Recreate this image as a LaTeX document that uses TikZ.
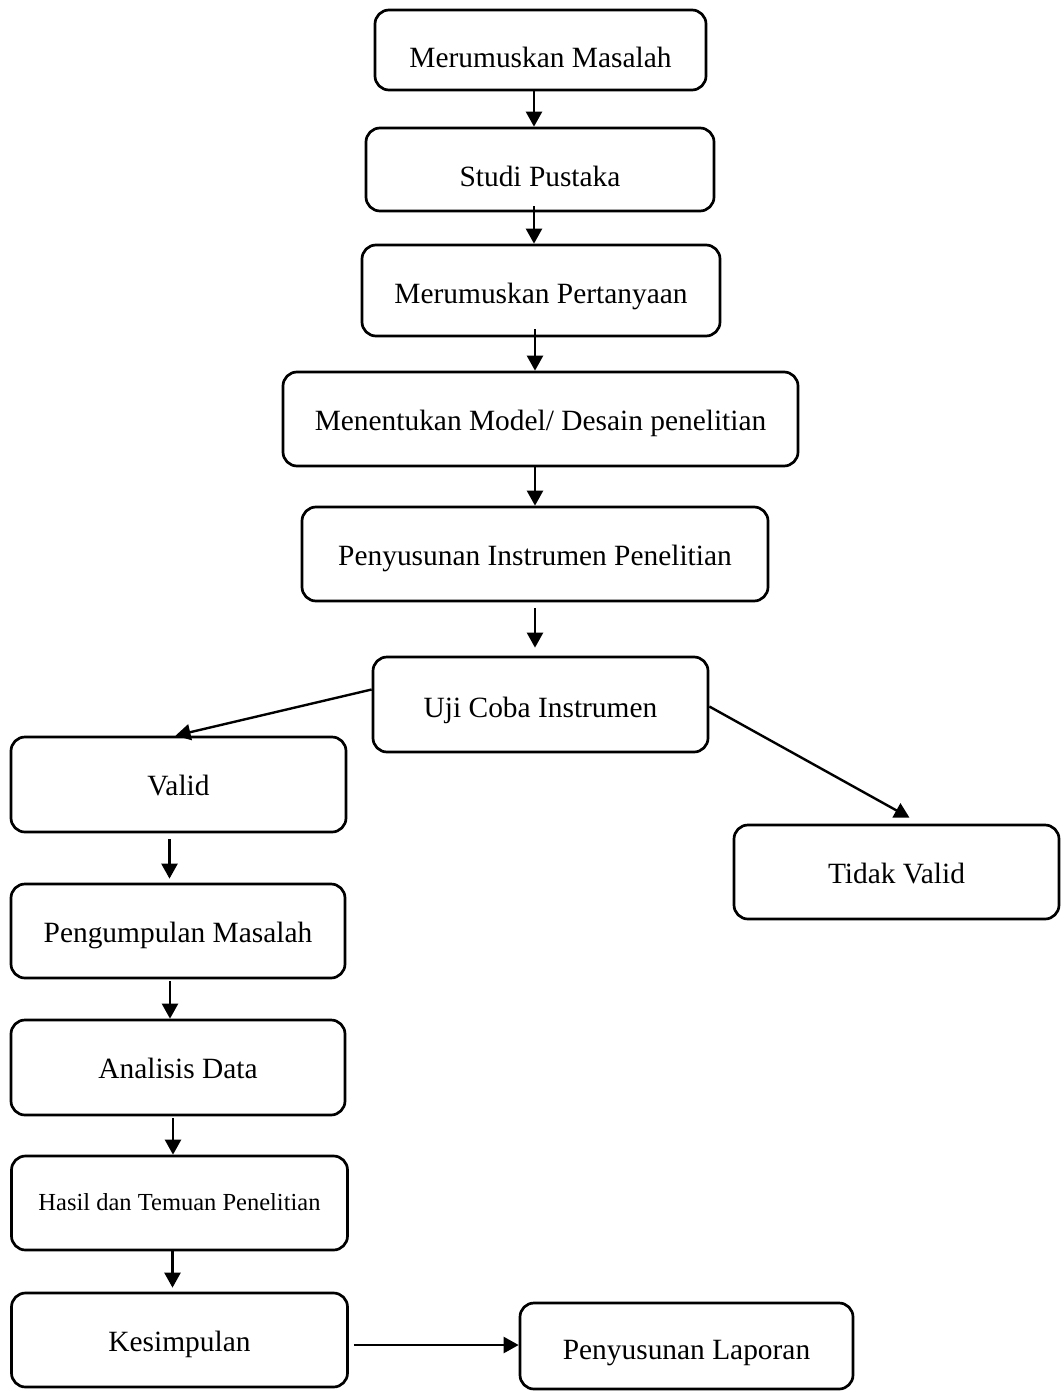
\documentclass[tikz,border=0pt]{standalone}
\usepackage{fontspec}
\setmainfont{Liberation Serif}
\usetikzlibrary{arrows.meta}
\tikzset{
  box/.style={draw, line width=2.7pt, rounded corners=14pt, inner sep=0pt,
    font=\fontsize{29.4}{34}\selectfont, text height=22pt, text depth=0pt},
  smallbox/.style={box, font=\fontsize{24.5}{28}\selectfont, text height=14pt},
  arr/.style={line width=2.4pt, -{Triangle[width=16pt,length=15pt]}}
}
\begin{document}
\begin{tikzpicture}[x=1pt,y=1pt]
\useasboundingbox (0,0) rectangle (1062,-1391);
\node[box, minimum width=331pt, minimum height=80pt, text height=35pt] (b1) at (540.5,-50) {Merumuskan Masalah};
\node[box, minimum width=348pt, minimum height=83pt, text height=34pt] (b2) at (540,-169.5) {Studi Pustaka};
\node[box, minimum width=358pt, minimum height=91pt, text height=25pt] (b3) at (541,-290.5) {Merumuskan Pertanyaan};
\node[box, minimum width=515pt, minimum height=94pt] (b4) at (540.5,-419) {Menentukan Model/ Desain penelitian};
\node[box, minimum width=466pt, minimum height=94pt] (b5) at (535,-554) {Penyusunan Instrumen Penelitian};
\node[box, minimum width=335pt, minimum height=95pt, text height=25pt] (b6) at (540.5,-704.5) {Uji Coba Instrumen};
\node[box, minimum width=335pt, minimum height=95pt] (valid) at (178.5,-784.5) {Valid};
\node[box, minimum width=325pt, minimum height=94pt] (tv) at (896.5,-872) {Tidak Valid};
\node[box, minimum width=334pt, minimum height=94pt] (peng) at (178,-931) {Pengumpulan Masalah};
\node[box, minimum width=334pt, minimum height=95pt] (ana) at (178,-1067.5) {Analisis Data};
\node[smallbox, minimum width=336pt, minimum height=94pt] (hasil) at (179.5,-1203) {Hasil dan Temuan Penelitian};
\node[box, minimum width=336pt, minimum height=94pt] (kes) at (179.5,-1340) {Kesimpulan};
\node[box, minimum width=333pt, minimum height=86pt, text height=27pt] (lap) at (686.5,-1346) {Penyusunan Laporan};

\draw[arr] ([xshift=-6.5pt]b1.south) -- ([xshift=-6.5pt]b1.south |- b2.north);
\draw[arr] ([xshift=-6pt,yshift=6pt]b2.south) -- ([xshift=-6pt]b2.south |- b3.north);
\draw[arr] ([xshift=-6pt,yshift=8pt]b3.south) -- ([xshift=-6pt]b3.south |- b4.north);
\draw[arr] ([xshift=-5.5pt]b4.south) -- ([xshift=-5.5pt]b4.south |- b5.north);
\draw[arr, shorten <=6pt, shorten >=8pt] (b5.south) -- (b5.south |- b6.north);
\draw[arr] ([yshift=15pt]b6.west) -- ([xshift=-3pt]valid.north);
\draw[arr] ([yshift=-2pt]b6.east) -- ([xshift=13pt,yshift=6pt]tv.north);
\draw[arr, shorten <=6pt, shorten >=4pt] ([xshift=-9pt]valid.south) -- ([xshift=-9pt]valid.south |- peng.north);
\draw[arr, shorten <=2pt] ([xshift=-8pt]peng.south) -- ([xshift=-8pt]peng.south |- ana.north);
\draw[arr, shorten <=2pt] ([xshift=-5pt]ana.south) -- ([xshift=-5pt]ana.south |- hasil.north);
\draw[arr, shorten >=4pt] ([xshift=-7pt]hasil.south) -- ([xshift=-7pt]hasil.south |- kes.north);
\draw[arr, shorten <=5pt] ([yshift=-5pt]kes.east) -- ([yshift=1pt]lap.west);
\end{tikzpicture}
\end{document}
